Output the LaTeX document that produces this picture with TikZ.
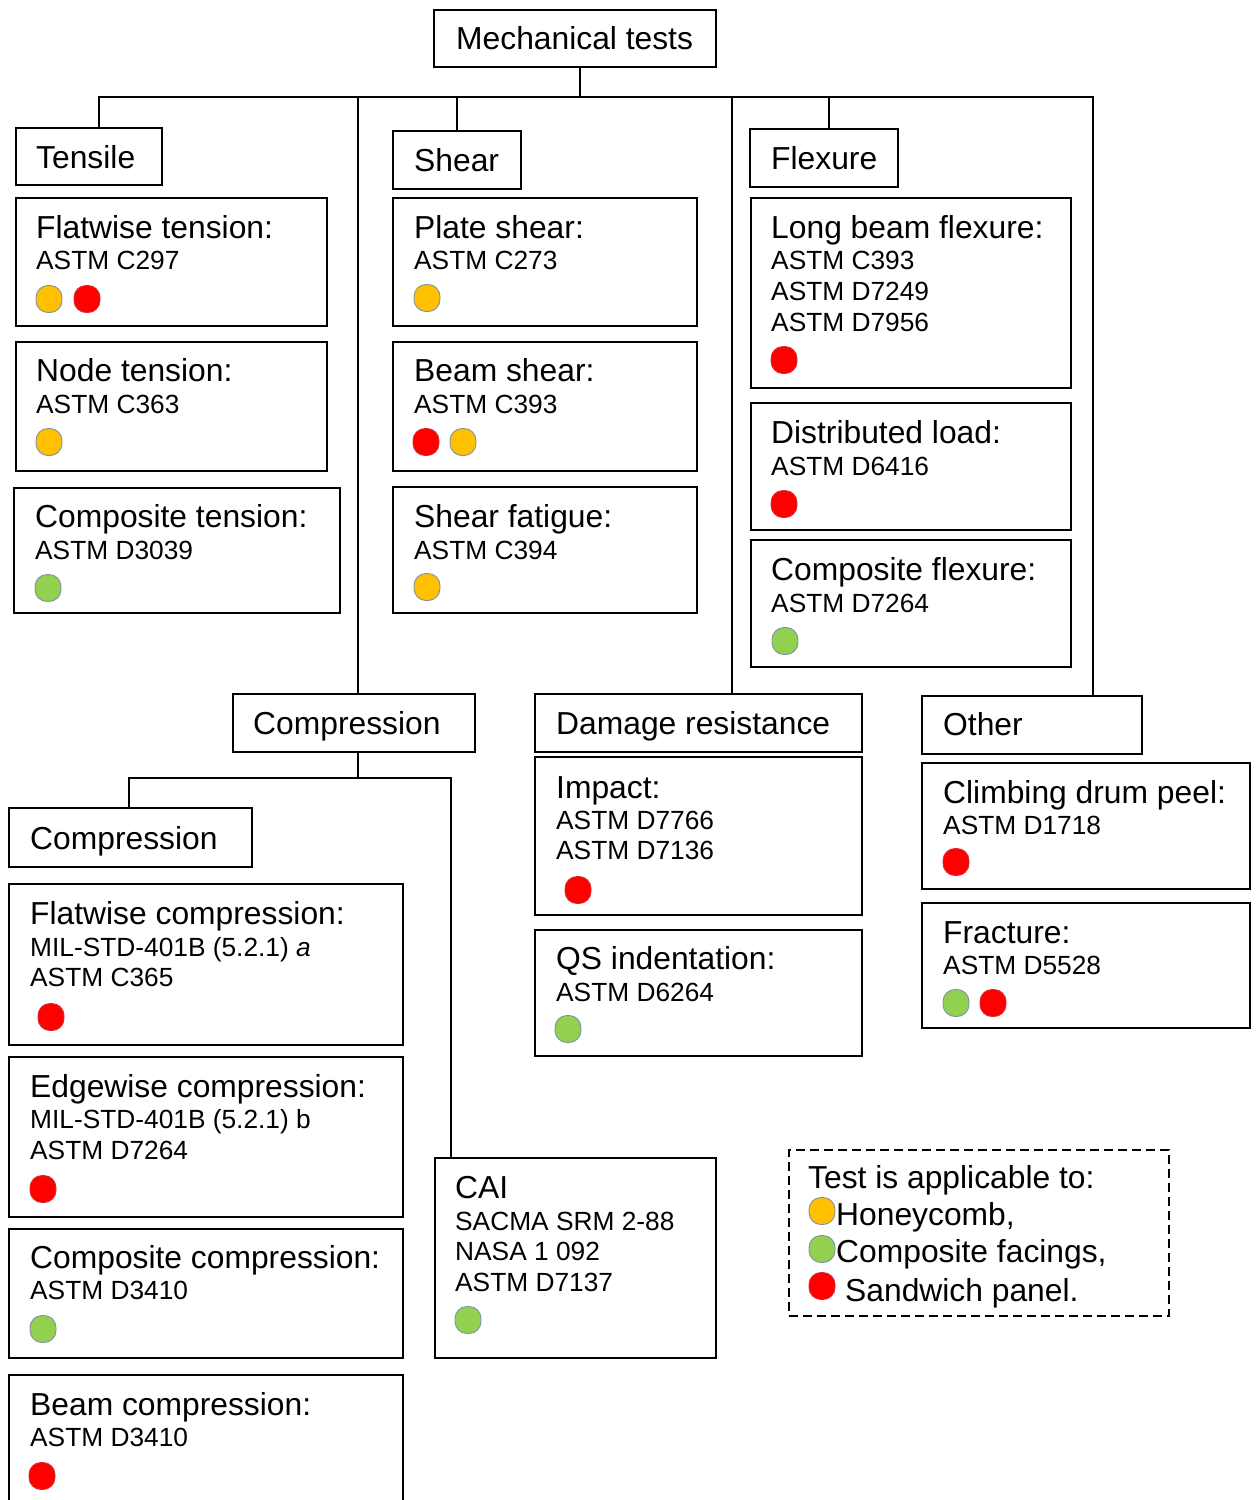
\documentclass[tikz,border=0pt]{standalone}
\usepackage{fontspec}
\setmainfont{Liberation Sans}
\definecolor{cyel}{HTML}{FFC000}
\definecolor{cred}{HTML}{FF0000}
\definecolor{cgrn}{HTML}{92D050}
\definecolor{dotedge}{HTML}{8090A8}
\newcommand\tbx[5]{\node[tb, minimum width=#4pt, minimum height=#5pt] (#1) at (#2,#3) {};}
\begin{document}
\begin{tikzpicture}[x=1pt,y=-1pt,
  tb/.style={draw=black, line width=1.7pt, rectangle, inner sep=0pt, outer sep=0pt, anchor=north west},
  hd/.style={anchor=base west, inner sep=0pt, font=\fontsize{31.8}{36}\selectfont},
  cd/.style={anchor=base west, inner sep=0pt, font=\fontsize{26.3}{30}\selectfont},
  dot/.style={draw=dotedge, line width=0.9pt, rectangle, rounded corners=12pt, minimum width=26pt, minimum height=27pt, inner sep=0pt},
  rdot/.style={dot, fill=cred, draw=cred!70!dotedge},
  conn/.style={draw=black, line width=1.7pt}]
\useasboundingbox (0,0) rectangle (1257,1500);

% ---------- category boxes ----------
\tbx{root}{434}{10}{282}{57}
\node[hd] (root-t) at (456,49) {Mechanical tests};
\tbx{tensile}{16}{128}{146}{57}
\node[hd] (tensile-t) at (36,168) {Tensile};
\tbx{shear}{393}{131}{128}{58}
\node[hd] (shear-t) at (414,171) {Shear};
\tbx{flexure}{750}{129}{148}{58}
\node[hd] (flexure-t) at (771,169) {Flexure};
\tbx{comp}{233}{694}{242}{58}
\node[hd] (comp-t) at (253,734) {Compression};
\tbx{damage}{535}{694}{327}{58}
\node[hd] (damage-t) at (556,734) {Damage resistance};
\tbx{other}{922}{696}{220}{58}
\node[hd] (other-t) at (943,735) {Other};
\tbx{comp2}{9}{808}{243}{59}
\node[hd] (comp2-t) at (30,849) {Compression};

% ---------- Tensile column ----------
\tbx{ftens}{16}{198}{311}{128}
\node[hd] (ftens-a) at (36,238) {Flatwise tension:};
\node[cd] (ftens-b) at (36,269) {ASTM C297};
\node[dot, fill=cyel] (ftens-d1) at (49,299) {};
\node[rdot] (ftens-d2) at (87,299) {};

\tbx{ntens}{16}{342}{311}{129}
\node[hd] (ntens-a) at (36,381) {Node tension:};
\node[cd] (ntens-b) at (36,413) {ASTM C363};
\node[dot, fill=cyel] (ntens-d1) at (49,442) {};

\tbx{ctens}{14}{488}{326}{125}
\node[hd] (ctens-a) at (35,527) {Composite tension:};
\node[cd] (ctens-b) at (35,559) {ASTM D3039};
\node[dot, fill=cgrn] (ctens-d1) at (48,588) {};

% ---------- Shear column ----------
\tbx{pshear}{393}{198}{304}{128}
\node[hd] (pshear-a) at (414,238) {Plate shear:};
\node[cd] (pshear-b) at (414,269) {ASTM C273};
\node[dot, fill=cyel] (pshear-d1) at (427,298) {};

\tbx{bshear}{393}{342}{304}{129}
\node[hd] (bshear-a) at (414,381) {Beam shear:};
\node[cd] (bshear-b) at (414,413) {ASTM C393};
\node[rdot] (bshear-d1) at (426,442) {};
\node[dot, fill=cyel] (bshear-d2) at (463,442) {};

\tbx{sfat}{393}{487}{304}{126}
\node[hd] (sfat-a) at (414,527) {Shear fatigue:};
\node[cd] (sfat-b) at (414,559) {ASTM C394};
\node[dot, fill=cyel] (sfat-d1) at (427,587) {};

% ---------- Flexure column ----------
\tbx{lbf}{751}{198}{320}{190}
\node[hd] (lbf-a) at (771,238) {Long beam flexure:};
\node[cd] (lbf-b) at (771,269) {ASTM C393};
\node[cd] (lbf-c) at (771,300) {ASTM D7249};
\node[cd] (lbf-e) at (771,331) {ASTM D7956};
\node[rdot] (lbf-d1) at (784,360) {};

\tbx{dload}{751}{403}{320}{127}
\node[hd] (dload-a) at (771,443) {Distributed load:};
\node[cd] (dload-b) at (771,475) {ASTM D6416};
\node[rdot] (dload-d1) at (784,504) {};

\tbx{cflex}{751}{540}{320}{127}
\node[hd] (cflex-a) at (771,580) {Composite flexure:};
\node[cd] (cflex-b) at (771,612) {ASTM D7264};
\node[dot, fill=cgrn] (cflex-d1) at (785,641) {};

% ---------- Compression column ----------
\tbx{fcomp}{9}{884}{394}{161}
\node[hd] (fcomp-a) at (30,924) {Flatwise compression:};
\node[cd] (fcomp-b) at (30,956) {MIL-STD-401B (5.2.1) \textit{a}};
\node[cd] (fcomp-c) at (30,986) {ASTM C365};
\node[rdot] (fcomp-d1) at (51,1017) {};

\tbx{ecomp}{9}{1057}{394}{160}
\node[hd] (ecomp-a) at (30,1097) {Edgewise compression:};
\node[cd] (ecomp-b) at (30,1128) {MIL-STD-401B (5.2.1) b};
\node[cd] (ecomp-c) at (30,1159) {ASTM D7264};
\node[rdot] (ecomp-d1) at (43,1189) {};

\tbx{ccomp}{9}{1229}{394}{129}
\node[hd] (ccomp-a) at (30,1268) {Composite compression:};
\node[cd] (ccomp-b) at (30,1299) {ASTM D3410};
\node[dot, fill=cgrn] (ccomp-d1) at (43,1329) {};

\tbx{bcomp}{9}{1375}{394}{150}
\node[hd] (bcomp-a) at (30,1415) {Beam compression:};
\node[cd] (bcomp-b) at (30,1446) {ASTM D3410};
\node[rdot] (bcomp-d1) at (42,1476) {};

\tbx{cai}{435}{1158}{281}{200}
\node[hd] (cai-a) at (455,1198) {CAI};
\node[cd] (cai-b) at (455,1230) {SACMA SRM 2-88};
\node[cd] (cai-c) at (455,1260) {NASA 1 092};
\node[cd] (cai-e) at (455,1291) {ASTM D7137};
\node[dot, fill=cgrn] (cai-d1) at (468,1320) {};

% ---------- Damage resistance column ----------
\tbx{impact}{535}{757}{327}{158}
\node[hd] (impact-a) at (556,798) {Impact:};
\node[cd] (impact-b) at (556,829) {ASTM D7766};
\node[cd] (impact-c) at (556,859) {ASTM D7136};
\node[rdot] (impact-d1) at (578,890) {};

\tbx{qsi}{535}{930}{327}{126}
\node[hd] (qsi-a) at (556,969) {QS indentation:};
\node[cd] (qsi-b) at (556,1001) {ASTM D6264};
\node[dot, fill=cgrn] (qsi-d1) at (568,1029) {};

% ---------- Other column ----------
\tbx{cdp}{922}{763}{328}{126}
\node[hd] (cdp-a) at (943,803) {Climbing drum peel:};
\node[cd] (cdp-b) at (943,834) {ASTM D1718};
\node[rdot] (cdp-d1) at (956,862) {};

\tbx{frac}{922}{903}{328}{125}
\node[hd] (frac-a) at (943,943) {Fracture:};
\node[cd] (frac-b) at (943,974) {ASTM D5528};
\node[dot, fill=cgrn] (frac-d1) at (956,1003) {};
\node[rdot] (frac-d2) at (993,1003) {};

% ---------- Legend ----------
\node[draw=black, line width=1.5pt, dash pattern=on 9pt off 5pt, rectangle, inner sep=0pt, anchor=north west, minimum width=380pt, minimum height=166pt] (legend) at (788,1149) {};
\node[hd] (leg-a) at (808,1188) {Test is applicable to:};
\node[dot, fill=cyel] (leg-d1) at (822,1211) {};
\node[hd] (leg-b) at (836,1225) {Honeycomb,};
\node[dot, fill=cgrn] (leg-d2) at (822,1249) {};
\node[hd] (leg-c) at (836,1262) {Composite facings,};
\node[rdot] (leg-d3) at (822,1286) {};
\node[hd] (leg-e) at (845,1301) {Sandwich panel.};

% ---------- connectors ----------
\coordinate (busL) at (99,97);
\coordinate (busR) at (1093,97);
\coordinate (busM) at (580,97);
\coordinate (busC) at (358,97);
\coordinate (busF) at (829,97);
\coordinate (busD) at (732,97);
\coordinate (subY) at (358,778);
\coordinate (subL) at (129,778);
\coordinate (subR) at (451,778);
\draw[conn] (busM |- root.south) -- (busM);
\draw[conn] (busL |- tensile.north) -- (busL) -- (busR) -- (busR |- other.north);
\draw[conn] (shear.north) -- (shear.north |- busL);
\draw[conn] (busF) -- (busF |- flexure.north);
\draw[conn] (busC) -- (busC |- comp.north);
\draw[conn] (busD) -- (busD |- damage.north);
\draw[conn] (subY |- comp.south) -- (subY);
\draw[conn] (subL |- comp2.north) -- (subL) -- (subR) -- (subR |- cai.north);
\end{tikzpicture}
\end{document}
